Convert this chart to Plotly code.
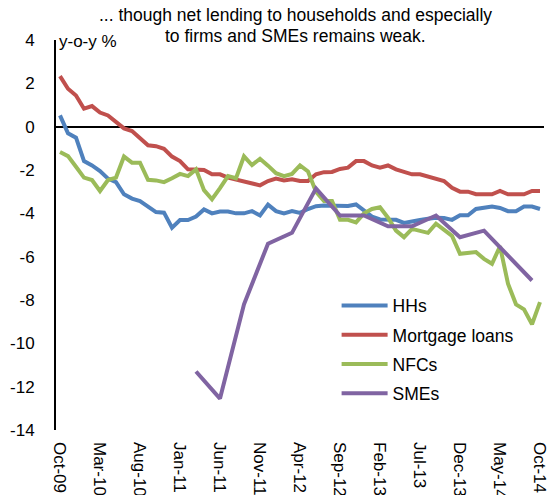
import plotly.graph_objects as go

# Monthly observations, Oct-09 .. Oct-14 (index 0 = Oct-09)
tick_labels = ["Oct-09", "Mar-10", "Aug-10", "Jan-11", "Jun-11", "Nov-11", "Apr-12",
               "Sep-12", "Feb-13", "Jul-13", "Dec-13", "May-14", "Oct-14"]
tick_positions = list(range(0, 61, 5))
months = list(range(61))

y_ticks = [4, 2, 0, -2, -4, -6, -8, -10, -12, -14]
y_tick_labels = ["4", "2", "0", "-2", "-4", "-6", "-8", "-10", "-12", "-14"]

hhs = [0.52, -0.31, -0.51, -1.59, -1.79, -2.05, -2.40, -2.56, -3.12, -3.32,
       -3.43, -3.66, -3.94, -3.97, -4.66, -4.31, -4.31, -4.15, -3.82, -4.00,
       -3.92, -3.92, -4.00, -4.00, -3.90, -4.10, -3.60, -3.90, -4.00, -3.90,
       -3.98, -3.80, -3.67, -3.64, -3.66, -3.66, -3.66, -3.59, -3.85, -4.15,
       -4.28, -4.30, -4.30, -4.44, -4.36, -4.31, -4.25, -4.20, -4.22, -4.30,
       -4.09, -4.09, -3.80, -3.76, -3.69, -3.75, -3.90, -3.90, -3.69, -3.69,
       -3.80]

mortgage = [2.33, 1.75, 1.44, 0.83, 0.95, 0.65, 0.52, 0.21, -0.08, -0.20,
            -0.51, -0.86, -0.90, -1.02, -1.38, -1.59, -1.97, -1.97, -2.00, -2.20,
            -2.20, -2.35, -2.43, -2.51, -2.62, -2.71, -2.51, -2.40, -2.48, -2.43,
            -2.51, -2.51, -2.20, -2.10, -2.09, -1.95, -1.89, -1.59, -1.59, -1.79,
            -1.89, -1.79, -1.97, -2.09, -2.20, -2.20, -2.31, -2.40, -2.51, -2.82,
            -3.00, -3.00, -3.12, -3.12, -3.12, -2.97, -3.12, -3.12, -3.12, -2.97,
            -2.97]

nfcs = [-1.17, -1.36, -1.85, -2.35, -2.46, -2.97, -2.46, -2.35, -1.38, -1.66,
        -1.66, -2.45, -2.48, -2.56, -2.38, -2.18, -2.28, -1.97, -2.93, -3.35,
        -2.84, -2.28, -2.38, -1.37, -1.77, -1.48, -1.80, -2.15, -2.28, -2.18,
        -1.79, -2.07, -3.00, -3.43, -3.43, -4.30, -4.30, -4.42, -4.00, -3.80,
        -3.72, -4.20, -4.80, -5.10, -4.72, -4.82, -4.90, -4.48, -4.74, -5.04,
        -5.87, -5.81, -5.79, -6.10, -6.33, -5.52, -7.25, -8.20, -8.43, -9.12,
        -8.10]

# SMEs are quarterly, starting Mar-11
sme_months = [17, 20, 23, 26, 29, 32, 35, 38, 41, 44, 47, 50, 53, 56, 59]
smes = [-11.3, -12.55, -8.2, -5.4, -4.9, -2.85, -4.1, -4.1, -4.6, -4.6,
        -4.1, -5.1, -4.8, -5.95, -7.1]

title_lines = ["... though net lending to households and especially",
               "to firms and SMEs remains weak."]

FONT = "Liberation Sans, Arial, sans-serif"

fig = go.Figure()
series = [
    ("HHs", months, hhs, "#4F81BD"),
    ("Mortgage loans", months, mortgage, "#C0504D"),
    ("NFCs", months, nfcs, "#9BBB59"),
    ("SMEs", sme_months, smes, "#8064A2"),
]
for name, xs, ys, color in series:
    fig.add_trace(go.Scatter(
        x=xs, y=ys, name=name, mode="lines", legendgroup=name,
        line=dict(color=color, width=4),
    ))

# plot area: 390 px tall, top edge 40 px below the page top
annotations = [
    dict(text=title_lines[0], xref="paper", yref="paper", x=0.49, y=1 + 25 / 390,
         xanchor="center", yanchor="middle", showarrow=False, font=dict(size=17.5)),
    dict(text=title_lines[1], xref="paper", yref="paper", x=0.49, y=1 + 4.5 / 390,
         xanchor="center", yanchor="middle", showarrow=False, font=dict(size=17.5)),
    dict(text="y-o-y %", xref="paper", yref="paper", x=0.0, xshift=1,
         y=1.0, yshift=-1, yanchor="middle", xanchor="left", showarrow=False,
         font=dict(size=17)),
]

fig.update_layout(
    width=551, height=495,
    margin=dict(l=56, r=7, t=40, b=65, autoexpand=False),
    paper_bgcolor="white", plot_bgcolor="white",
    font=dict(family=FONT, size=17, color="black"),
    showlegend=True,
    legend=dict(
        x=0.575, y=0.365, xanchor="left", yanchor="top",
        bgcolor="rgba(0,0,0,0)", font=dict(size=17.5),
        tracegroupgap=3.5, itemwidth=46,
    ),
    annotations=annotations,
)

fig.update_xaxes(
    range=[-0.5, 60.5], tickmode="array", tickvals=tick_positions,
    ticktext=tick_labels, tickangle=90, showgrid=False, showline=False,
    zeroline=False, ticks="", tickfont=dict(size=17), ticklabelstandoff=11,
    automargin=False,
)
fig.update_yaxes(
    range=[-14, 4], tickmode="array", tickvals=y_ticks, ticktext=y_tick_labels,
    showgrid=False, showline=True, linecolor="black",
    linewidth=2, zeroline=True, zerolinecolor="black", zerolinewidth=1.5,
    ticks="", ticklabelstandoff=16, tickfont=dict(size=17), automargin=False,
)

fig.write_html("out.html")
